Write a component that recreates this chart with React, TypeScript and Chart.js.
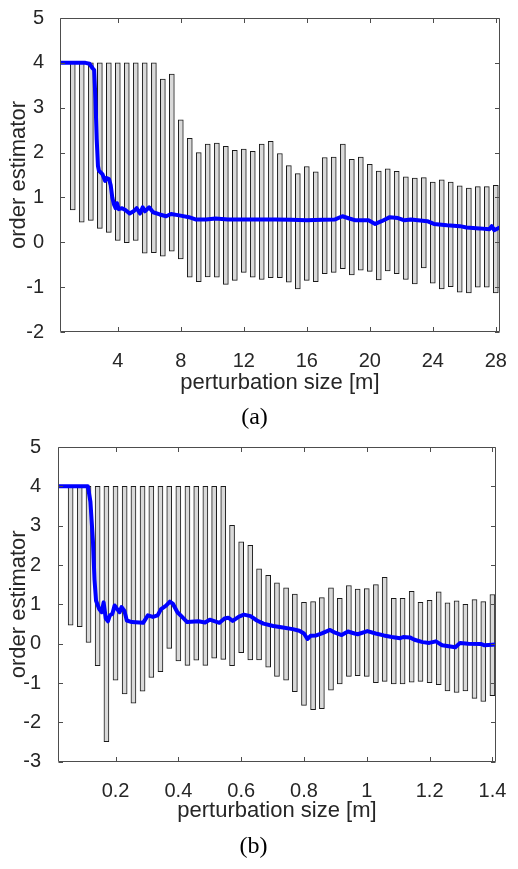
import React, { useEffect, useRef } from "react";
import { Chart, registerables } from "chart.js";

Chart.register(...registerables);

// ---------- Panel (a) ----------
const aBarX = [1.14, 1.71, 2.29, 2.86, 3.43, 4.0, 4.57, 5.14, 5.71, 6.29, 6.86, 7.43, 8.0, 8.57, 9.14, 9.71, 10.29, 10.86, 11.43, 12.0, 12.57, 13.14, 13.71, 14.29, 14.86, 15.43, 16.0, 16.57, 17.14, 17.71, 18.29, 18.86, 19.43, 20.0, 20.57, 21.14, 21.71, 22.29, 22.86, 23.43, 24.0, 24.57, 25.14, 25.71, 26.29, 26.86, 27.43, 28.0];
const aBarHigh = [4, 4, 4, 4, 4, 4, 4, 4, 4, 4, 3.64, 3.75, 2.73, 2.32, 2.0, 2.19, 2.21, 2.14, 2.05, 2.08, 2.03, 2.19, 2.25, 1.98, 1.71, 1.53, 1.69, 1.57, 1.89, 1.9, 2.19, 1.85, 1.9, 1.74, 1.59, 1.64, 1.58, 1.46, 1.43, 1.44, 1.34, 1.39, 1.34, 1.26, 1.21, 1.24, 1.24, 1.27];
const aBarLow = [0.72, 0.45, 0.49, 0.31, 0.22, 0.04, -0.01, 0.04, -0.24, -0.23, -0.31, -0.2, -0.37, -0.78, -0.88, -0.77, -0.78, -0.94, -0.85, -0.67, -0.78, -0.83, -0.79, -0.79, -0.89, -1.04, -0.85, -0.88, -0.7, -0.67, -0.59, -0.73, -0.62, -0.65, -0.84, -0.64, -0.7, -0.83, -0.93, -0.57, -0.91, -1.04, -0.99, -1.11, -1.13, -1.0, -1.0, -1.13];
const aLineX = [0.33, 1.95, 2.2, 2.4, 2.5, 2.58, 2.66, 2.74, 2.8, 3.02, 3.19, 3.3, 3.44, 3.55, 3.65, 3.75, 3.86, 3.95, 4.06, 4.27, 4.48, 4.75, 5.0, 5.2, 5.41, 5.58, 5.72, 5.99, 6.24, 6.66, 7.07, 7.38, 7.9, 8.52, 8.93, 9.6, 10.2, 11.0, 12.0, 13.0, 14.0, 15.0, 16.0, 17.0, 17.8, 18.26, 18.7, 19.1, 19.92, 20.34, 20.75, 21.27, 21.79, 22.2, 22.61, 23.65, 24.07, 24.9, 25.72, 26.14, 26.97, 27.59, 27.74, 27.9, 28.25];
const aLineY = [4.0, 4.0, 3.98, 3.88, 3.84, 3.2, 2.3, 1.7, 1.6, 1.52, 1.37, 1.43, 1.41, 1.27, 1.0, 0.85, 0.76, 0.87, 0.74, 0.76, 0.72, 0.64, 0.69, 0.76, 0.64, 0.78, 0.69, 0.78, 0.67, 0.62, 0.58, 0.63, 0.6, 0.56, 0.51, 0.51, 0.53, 0.51, 0.51, 0.51, 0.51, 0.5, 0.49, 0.5, 0.51, 0.58, 0.53, 0.49, 0.49, 0.41, 0.47, 0.56, 0.54, 0.49, 0.51, 0.47, 0.41, 0.38, 0.36, 0.33, 0.31, 0.29, 0.36, 0.27, 0.33];
const aXTicks = [4, 8, 12, 16, 20, 24, 28];
const aXTickLabels = ["4", "8", "12", "16", "20", "24", "28"];
const aYTicks = [-2, -1, 0, 1, 2, 3, 4, 5];
const aYTickLabels = ["-2", "-1", "0", "1", "2", "3", "4", "5"];

// ---------- Panel (b) ----------
const bBarX = [0.057, 0.086, 0.114, 0.143, 0.171, 0.2, 0.229, 0.257, 0.286, 0.314, 0.343, 0.371, 0.4, 0.429, 0.457, 0.486, 0.514, 0.543, 0.571, 0.6, 0.629, 0.657, 0.686, 0.714, 0.743, 0.771, 0.8, 0.829, 0.857, 0.886, 0.914, 0.943, 0.971, 1.0, 1.029, 1.057, 1.086, 1.114, 1.143, 1.171, 1.2, 1.229, 1.257, 1.286, 1.314, 1.343, 1.371, 1.4];
const bBarHigh = [4, 4, 4, 4, 4, 4, 4, 4, 4, 4, 4, 4, 4, 4, 4, 4, 4, 4, 3.01, 2.59, 2.5, 1.9, 1.74, 1.55, 1.42, 1.26, 1.05, 1.07, 1.17, 1.42, 1.15, 1.48, 1.39, 1.4, 1.5, 1.69, 1.15, 1.15, 1.33, 1.05, 1.1, 1.32, 1.04, 1.09, 1.0, 1.12, 1.07, 1.25];
const bBarLow = [0.47, 0.43, 0.03, -0.56, -2.49, -0.93, -1.28, -1.51, -1.21, -0.86, -0.71, -0.12, -0.44, -0.55, -0.42, -0.55, -0.37, -0.4, -0.56, -0.23, -0.41, -0.41, -0.6, -0.83, -0.93, -1.22, -1.57, -1.68, -1.65, -1.18, -1.02, -0.83, -0.81, -0.83, -0.99, -0.96, -1.02, -1.02, -0.98, -0.96, -0.99, -1.04, -1.2, -1.24, -1.2, -1.39, -1.47, -1.32];
const bLineX = [0.017, 0.112, 0.12, 0.128, 0.133, 0.138, 0.148, 0.156, 0.162, 0.169, 0.176, 0.182, 0.19, 0.197, 0.205, 0.213, 0.219, 0.228, 0.236, 0.252, 0.288, 0.303, 0.319, 0.334, 0.345, 0.361, 0.373, 0.383, 0.397, 0.412, 0.428, 0.464, 0.485, 0.5, 0.531, 0.547, 0.559, 0.573, 0.593, 0.609, 0.63, 0.65, 0.671, 0.702, 0.733, 0.764, 0.785, 0.8, 0.811, 0.821, 0.839, 0.857, 0.883, 0.899, 0.92, 0.94, 0.961, 0.971, 1.002, 1.028, 1.054, 1.08, 1.106, 1.116, 1.137, 1.152, 1.178, 1.199, 1.22, 1.24, 1.282, 1.297, 1.323, 1.365, 1.375, 1.411];
const bLineY = [4.0, 4.0, 3.61, 2.62, 1.63, 1.09, 0.88, 0.8, 1.05, 0.64, 0.57, 0.72, 0.76, 0.97, 0.88, 0.8, 0.93, 0.84, 0.59, 0.55, 0.53, 0.72, 0.68, 0.72, 0.88, 0.97, 1.07, 1.01, 0.8, 0.68, 0.55, 0.57, 0.54, 0.61, 0.53, 0.64, 0.66, 0.58, 0.69, 0.74, 0.7, 0.59, 0.51, 0.45, 0.41, 0.37, 0.33, 0.26, 0.12, 0.2, 0.21, 0.26, 0.35, 0.28, 0.22, 0.31, 0.26, 0.24, 0.32, 0.26, 0.21, 0.17, 0.14, 0.17, 0.16, 0.1, 0.04, 0.02, 0.06, -0.04, -0.09, 0.02, 0.0, -0.01, -0.04, -0.02];
const bXTicks = [0.2, 0.4, 0.6, 0.8, 1.0, 1.2, 1.4];
const bXTickLabels = ["0.2", "0.4", "0.6", "0.8", "1", "1.2", "1.4"];
const bYTicks = [-3, -2, -1, 0, 1, 2, 3, 4, 5];
const bYTickLabels = ["-3", "-2", "-1", "0", "1", "2", "3", "4", "5"];

const X_TITLE = "perturbation size [m]";
const Y_TITLE = "order estimator";

const SANS = '"Liberation Sans", Arial, Helvetica, sans-serif';
const SERIF = '"Liberation Serif", "Times New Roman", serif';
const TEXT = "#262626";
const FRAME = "#4d4d4d";
const TICK_SIZE = 20;
const TITLE_SIZE = 22;

const framePlugin = {
  id: "matlabFrame",
  afterDatasetsDraw(chart: any) {
    const { ctx, chartArea } = chart;
    const xs = chart.scales.x;
    const ys = chart.scales.y;
    const l = Math.round(chartArea.left) + 0.5;
    const r = Math.round(chartArea.right) - 0.5;
    const t = Math.round(chartArea.top) + 0.5;
    const b = Math.round(chartArea.bottom) - 0.5;
    const tl = 4.5;
    ctx.save();
    ctx.strokeStyle = FRAME;
    ctx.lineWidth = 1;
    ctx.beginPath();
    ctx.rect(l, t, r - l, b - t);
    xs.ticks.forEach((tk: any) => {
      const px = Math.round(xs.getPixelForValue(tk.value)) + 0.5;
      ctx.moveTo(px, b);
      ctx.lineTo(px, b - tl);
      ctx.moveTo(px, t);
      ctx.lineTo(px, t + tl);
    });
    ys.ticks.forEach((tk: any) => {
      const py = Math.round(ys.getPixelForValue(tk.value)) + 0.5;
      ctx.moveTo(l, py);
      ctx.lineTo(l + tl, py);
      ctx.moveTo(r, py);
      ctx.lineTo(r - tl, py);
    });
    ctx.stroke();
    ctx.restore();
  },
};

type PanelSpec = {
  barX: number[];
  barHigh: number[];
  barLow: number[];
  lineX: number[];
  lineY: number[];
  xTicks: number[];
  xTickLabels: string[];
  yTicks: number[];
  yTickLabels: string[];
  xMin: number;
  xMax: number;
  yMin: number;
  yMax: number;
  caption: string;
  padTop: number;
  padRight: number;
  yWidth: number;
  yTickPad: number;
  yTitlePad: number;
  xHeight: number;
  xTickPad: number;
  xTitlePadBottom: number;
  captionPadBottom: number;
};

function buildConfig(p: PanelSpec): any {
  return {
    type: "bar",
    data: {
      datasets: [
        {
          type: "line",
          data: p.lineX.map((x, i) => ({ x, y: p.lineY[i] })),
          borderColor: "#0000ff",
          borderWidth: 4,
          pointRadius: 0,
          tension: 0,
          fill: false,
          borderJoinStyle: "round",
          borderCapStyle: "round",
          order: 0,
        },
        {
          type: "bar",
          data: p.barX.map((x, i) => ({ x, y: [p.barLow[i], p.barHigh[i]] })),
          backgroundColor: "#d9d9d9",
          borderColor: "#1a1a1a",
          borderWidth: 1,
          borderSkipped: false,
          barThickness: 5,
          order: 1,
        },
      ],
    },
    options: {
      responsive: false,
      animation: false,
      devicePixelRatio: 1,
      layout: { padding: { top: p.padTop, right: p.padRight, bottom: 0, left: 0 } },
      plugins: {
        legend: { display: false },
        tooltip: { enabled: false },
        title: {
          display: true,
          text: p.caption,
          position: "bottom",
          color: "#000",
          font: { family: SERIF, size: 24, weight: "normal" },
          padding: { top: 0, bottom: p.captionPadBottom },
        },
      },
      scales: {
        x: {
          type: "linear",
          min: p.xMin,
          max: p.xMax,
          offset: false,
          grid: { display: false },
          border: { display: false },
          ticks: {
            color: TEXT,
            font: { family: SANS, size: TICK_SIZE, lineHeight: 1 },
            padding: p.xTickPad,
            maxRotation: 0,
            autoSkip: false,
            callback: (_v: any, i: number) => p.xTickLabels[i],
          },
          afterBuildTicks: (s: any) => {
            s.ticks = p.xTicks.map((v) => ({ value: v }));
          },
          title: {
            display: true,
            text: X_TITLE,
            color: TEXT,
            font: { family: SANS, size: TITLE_SIZE },
            padding: { top: 0, bottom: p.xTitlePadBottom },
          },
          afterFit: (s: any) => {
            s.height = p.xHeight;
          },
        },
        y: {
          type: "linear",
          min: p.yMin,
          max: p.yMax,
          grid: { display: false },
          border: { display: false },
          ticks: {
            color: TEXT,
            font: { family: SANS, size: TICK_SIZE, lineHeight: 1 },
            padding: p.yTickPad,
            autoSkip: false,
            callback: (_v: any, i: number) => p.yTickLabels[i],
          },
          afterBuildTicks: (s: any) => {
            s.ticks = p.yTicks.map((v) => ({ value: v }));
          },
          title: {
            display: true,
            text: Y_TITLE,
            color: TEXT,
            font: { family: SANS, size: TITLE_SIZE },
            padding: { top: p.yTitlePad, bottom: 0 },
          },
          afterFit: (s: any) => {
            s.width = p.yWidth;
          },
        },
      },
    },
    plugins: [framePlugin],
  };
}

function Panel(props: { spec: PanelSpec; top: number; height: number }) {
  const ref = useRef<HTMLCanvasElement | null>(null);
  useEffect(() => {
    if (!ref.current) return;
    const chart = new Chart(ref.current, buildConfig(props.spec));
    return () => chart.destroy();
  }, []);
  return (
    <canvas
      ref={ref}
      width={518}
      height={props.height}
      style={{ position: "absolute", left: 0, top: props.top, width: 518, height: props.height }}
    />
  );
}

const specA: PanelSpec = {
  barX: aBarX,
  barHigh: aBarHigh,
  barLow: aBarLow,
  lineX: aLineX,
  lineY: aLineY,
  xTicks: aXTicks,
  xTickLabels: aXTickLabels,
  yTicks: aYTicks,
  yTickLabels: aYTickLabels,
  xMin: 0.33,
  xMax: 28.25,
  yMin: -2,
  yMax: 5,
  caption: "(a)",
  padTop: 10,
  padRight: 9,
  yWidth: 60,
  yTickPad: 8,
  yTitlePad: 5.3,
  xHeight: 71.2,
  xTickPad: 11,
  xTitlePadBottom: 6.6,
  captionPadBottom: 0,
};

const specB: PanelSpec = {
  barX: bBarX,
  barHigh: bBarHigh,
  barLow: bBarLow,
  lineX: bLineX,
  lineY: bLineY,
  xTicks: bXTicks,
  xTickLabels: bXTickLabels,
  yTicks: bYTicks,
  yTickLabels: bYTickLabels,
  xMin: 0.0168,
  xMax: 1.4112,
  yMin: -3,
  yMax: 5,
  caption: "(b)",
  padTop: 11.5,
  padRight: 11,
  yWidth: 58,
  yTickPad: 9,
  yTitlePad: 5.3,
  xHeight: 71.1,
  xTickPad: 11.6,
  xTitlePadBottom: 8.4,
  captionPadBottom: 7.4,
};

export default function App() {
  return (
    <div
      style={{
        position: "absolute",
        left: 0,
        top: 0,
        width: 518,
        height: 869,
        overflow: "hidden",
        background: "#fff",
      }}
    >
      <Panel spec={specA} top={0} height={432} />
      <Panel spec={specB} top={428} height={441} />
    </div>
  );
}
